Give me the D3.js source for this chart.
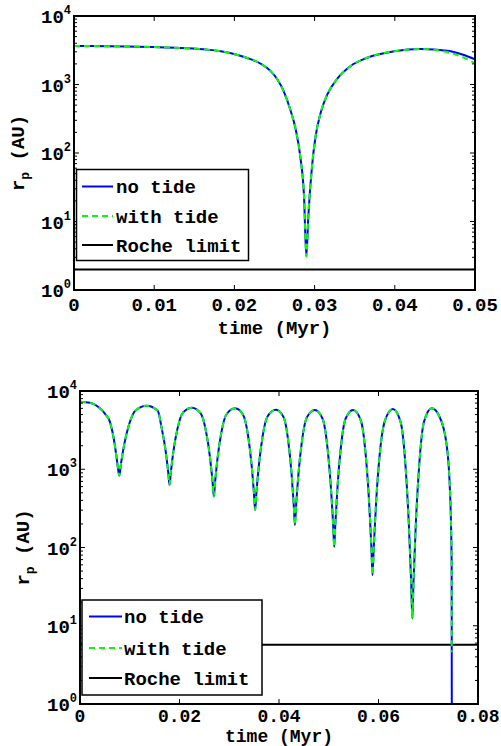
<!DOCTYPE html>
<html><head><meta charset="utf-8">
<script src="https://cdn.jsdelivr.net/npm/d3@7"></script>
<style>body{margin:0;background:#fff}svg{display:block}</style>
</head><body>
<svg id="c" width="501" height="746"></svg>
<script>
// ---- data: top panel ----
const topTime = [0, 0.00665, 0.0133, 0.01663, 0.01829, 0.01995, 0.02161, 0.02328, 0.02452, 0.02535, 0.02618, 0.02702, 0.02764, 0.02826, 0.02868, 0.02897, 0.02922, 0.02968, 0.03013, 0.03076, 0.03159, 0.03283, 0.0345, 0.03657, 0.0399, 0.04323, 0.04655, 0.04863, 0.05];
const topNoTide = [3650, 3590, 3410, 3230, 3050, 2790, 2440, 2010, 1570, 1190, 778, 410, 222, 81, 23.6, 3.1, 12.0, 64.6, 177, 388, 718, 1216, 1862, 2460, 3050, 3300, 3120, 2700, 2330];
const topWithTide = [3650, 3590, 3410, 3230, 3050, 2790, 2440, 2010, 1570, 1190, 778, 410, 222, 81, 23.6, 3.1, 12.0, 64.6, 177, 388, 718, 1216, 1862, 2460, 3050, 3300, 2980, 2460, 2040];
const topRoche = 2.0;
const topXTicks = [0, 0.01, 0.02, 0.03, 0.04, 0.05];

// ---- data: bottom panel ----
const botTime = [0, 0.002, 0.004, 0.005, 0.006, 0.007, 0.0075, 0.0079,
  0.00823, 0.00889, 0.00983, 0.0112, 0.0134,
  0.01564, 0.01639, 0.01717, 0.01772, 0.018,
  0.01827, 0.01881, 0.01958, 0.0207, 0.0225,
  0.02426, 0.02536, 0.02611, 0.02664, 0.0269,
  0.02716, 0.02767, 0.02841, 0.02948, 0.0312,
  0.0328, 0.0338, 0.03448, 0.03496, 0.0352,
  0.03545, 0.03596, 0.03667, 0.03772, 0.0394,
  0.04092, 0.04187, 0.04252, 0.04297, 0.0432,
  0.04344, 0.04392, 0.0446, 0.0456, 0.0472,
  0.04876, 0.04974, 0.0504, 0.05087, 0.0511,
  0.05133, 0.05178, 0.05243, 0.05338, 0.0549,
  0.05646, 0.05744, 0.0581, 0.05857, 0.0588,
  0.05905, 0.05954, 0.06024, 0.06136, 0.0629,
  0.06446, 0.06544, 0.0661, 0.06657, 0.0668,
  0.06703, 0.0675, 0.06817, 0.06914, 0.0707,
  0.0722, 0.0737, 0.0744, 0.0747, 0.07472, 0.07474];
const botNoTide = [7290, 7080, 6000, 5130, 4060, 2040, 1200, 828,
  1170, 2080, 3680, 5690, 6490,
  5580, 3410, 1790, 933, 630,
  925, 1750, 3270, 5300, 6120,
  5180, 2980, 1450, 695, 447,
  693, 1430, 2940, 5080, 6000,
  4950, 2640, 1150, 500, 301,
  495, 1130, 2560, 4760, 5750,
  4630, 2260, 889, 344, 194,
  344, 887, 2250, 4600, 5710,
  4420, 1890, 622, 202, 102,
  202, 622, 1890, 4420, 5710,
  4190, 1500, 394, 101, 44.6,
  102, 399, 1540, 4310, 5890,
  3970, 1080, 198, 35.2, 12.4,
  35.3, 200, 1100, 4040, 6000,
  4790, 2040, 469, 65.9, 5.0, 0.316];
const botWithTide = [7290, 7080, 6000, 5130, 4060, 2040, 1200, 828,
  1170, 2080, 3680, 5690, 6490,
  5580, 3410, 1790, 933, 630,
  925, 1750, 3270, 5300, 6120,
  5180, 2980, 1450, 695, 447,
  693, 1430, 2940, 5080, 6000,
  4950, 2640, 1150, 500, 301,
  495, 1130, 2560, 4760, 5750,
  4630, 2260, 889, 344, 194,
  344, 887, 2250, 4600, 5710,
  4420, 1890, 622, 202, 102,
  202, 622, 1890, 4420, 5710,
  4190, 1500, 394, 101, 44.6,
  102, 399, 1540, 4310, 5890,
  3970, 1080, 198, 35.2, 12.4,
  35.3, 200, 1100, 4040, 6000,
  4790, 2040, 469, 65.9, 4.6];
const botRoche = 5.7;
const botXTicks = [0, 0.02, 0.04, 0.06, 0.08];

const yDecades = [0, 1, 2, 3, 4];
const legendLabels = ["no tide", "with tide", "Roche limit"];
const xLabel = "time (Myr)";

const MONO = "'Liberation Mono','Courier New',monospace";
const svg = d3.select("#c");

function panel(cfg) {
  const g = svg.append("g");
  const x = d3.scaleLinear().domain([0, cfg.xMax]).range([cfg.left, cfg.right]);
  const y = d3.scaleLog().domain([1, 1e4]).range([cfg.bottom, cfg.top]);
  const clipId = "clip" + cfg.id;
  svg.append("clipPath").attr("id", clipId).append("rect")
    .attr("x", cfg.left).attr("y", cfg.top)
    .attr("width", cfg.right - cfg.left).attr("height", cfg.bottom - cfg.top);
  const plot = g.append("g").attr("clip-path", `url(#${clipId})`);
  const line = d3.line().x(d => x(d[0])).y(d => y(d[1])).curve(d3.curveMonotoneX);

  plot.append("line").attr("x1", x(0)).attr("x2", x(cfg.xMax))
    .attr("y1", y(cfg.roche)).attr("y2", y(cfg.roche))
    .attr("stroke", "#000").attr("stroke-width", 2);
  plot.append("path").datum(d3.zip(cfg.time, cfg.noTide)).attr("d", line)
    .attr("fill", "none").attr("stroke", "#0000ff").attr("stroke-width", 2);
  plot.append("path").datum(d3.zip(cfg.time.slice(0, cfg.withTide.length), cfg.withTide)).attr("d", line)
    .attr("fill", "none").attr("stroke", "#00ff00").attr("stroke-width", 2)
    .attr("stroke-dasharray", "6,4");

  // ticks
  const tk = g.append("g").attr("stroke", "#000").attr("stroke-width", 1);
  cfg.xTicks.forEach(t => {
    tk.append("line").attr("x1", x(t)).attr("x2", x(t)).attr("y1", cfg.bottom).attr("y2", cfg.bottom - 5);
    tk.append("line").attr("x1", x(t)).attr("x2", x(t)).attr("y1", cfg.top).attr("y2", cfg.top + 5);
  });
  y.ticks().forEach(v => {
    const major = Math.abs(Math.log10(v) - Math.round(Math.log10(v))) < 1e-9;
    const len = major ? 5 : 3;
    tk.append("line").attr("x1", cfg.left).attr("x2", cfg.left + len).attr("y1", y(v)).attr("y2", y(v));
    tk.append("line").attr("x1", cfg.right).attr("x2", cfg.right - len).attr("y1", y(v)).attr("y2", y(v));
  });

  // box
  g.append("rect").attr("x", cfg.left).attr("y", cfg.top)
    .attr("width", cfg.right - cfg.left).attr("height", cfg.bottom - cfg.top)
    .attr("fill", "none").attr("stroke", "#000").attr("stroke-width", 2);

  // x tick labels
  cfg.xTicks.forEach(t => {
    g.append("text").attr("x", x(t)).attr("y", cfg.xTickBase)
      .attr("text-anchor", "middle").attr("font-family", MONO).attr("font-weight", "bold")
      .attr("font-size", cfg.xFont).text(t === 0 ? "0" : d3.format(".2f")(t));
  });
  // y tick labels
  yDecades.forEach(e => {
    const t = g.append("text").attr("x", cfg.left - 3).attr("y", y(Math.pow(10, e)) + 7)
      .attr("text-anchor", "end").attr("font-family", MONO).attr("font-weight", "bold").attr("font-size", 19);
    t.append("tspan").text("10");
    t.append("tspan").attr("dy", -9).attr("font-size", 12).text(String(e));
  });
  // x label
  g.append("text").attr("x", (cfg.left + cfg.right) / 2).attr("y", cfg.xLabelBase)
    .attr("text-anchor", "middle").attr("font-family", MONO).attr("font-weight", "bold")
    .attr("font-size", cfg.xFont).text(xLabel);
  // y label
  const yl = g.append("text")
    .attr("transform", `translate(${cfg.yLabelX},${(cfg.top + cfg.bottom) / 2}) rotate(-90)`)
    .attr("text-anchor", "middle").attr("font-family", MONO).attr("font-weight", "bold").attr("font-size", 19);
  yl.append("tspan").text("r");
  yl.append("tspan").attr("dy", 5).attr("font-size", 13).text("p");
  yl.append("tspan").attr("dy", -5).text(" (AU)");

  // legend
  const L = cfg.legend;
  const lg = g.append("g");
  lg.append("rect").attr("x", L.x).attr("y", L.y).attr("width", L.w).attr("height", L.h)
    .attr("fill", "#fff").attr("stroke", "#000").attr("stroke-width", 1.5);
  const styles = [
    {c: "#0000ff", d: null},
    {c: "#00ff00", d: "6,4"},
    {c: "#000", d: null}
  ];
  legendLabels.forEach((lab, i) => {
    const yy = L.rows[i];
    const ln = lg.append("line").attr("x1", L.lx1).attr("x2", L.lx2).attr("y1", yy).attr("y2", yy)
      .attr("stroke", styles[i].c).attr("stroke-width", 2);
    if (styles[i].d) ln.attr("stroke-dasharray", styles[i].d);
    lg.append("text").attr("x", L.tx).attr("y", yy).attr("dy", "0.35em")
      .attr("font-family", MONO).attr("font-weight", "bold").attr("font-size", 19).text(lab);
  });
}

panel({
  id: "top", left: 74, right: 475, top: 16, bottom: 290, xMax: 0.05,
  time: topTime, noTide: topNoTide, withTide: topWithTide, roche: topRoche, xTicks: topXTicks,
  xTickBase: 311, xLabelBase: 334, yLabelX: 24, xFont: 19,
  legend: {x: 76.5, y: 169.5, w: 172, h: 91, rows: [186.5, 216, 245], lx1: 82, lx2: 113, tx: 116}
});
panel({
  id: "bot", left: 80, right: 478, top: 391, bottom: 704, xMax: 0.08,
  time: botTime, noTide: botNoTide, withTide: botWithTide, roche: botRoche, xTicks: botXTicks,
  xTickBase: 722, xLabelBase: 742, yLabelX: 29, xFont: 18,
  legend: {x: 82, y: 600, w: 180, h: 95, rows: [616.5, 648, 678], lx1: 89, lx2: 122, tx: 124}
});
</script>
</body></html>
